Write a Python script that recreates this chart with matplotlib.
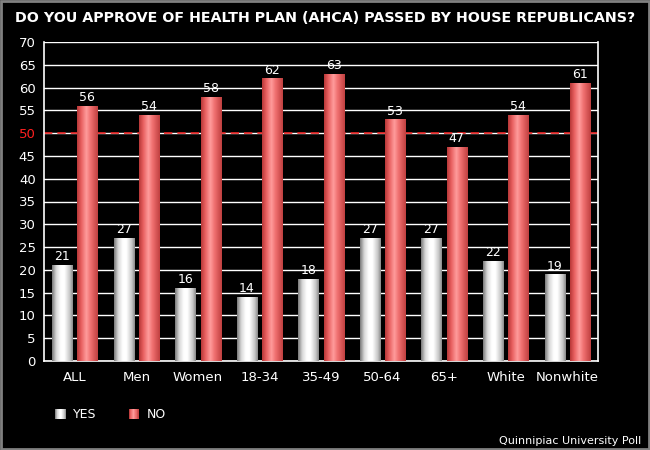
import matplotlib
matplotlib.use("Agg")
import matplotlib.pyplot as plt
import numpy as np
from matplotlib.patches import Rectangle
from matplotlib.legend_handler import HandlerBase
from matplotlib.colors import LinearSegmentedColormap

categories = ["ALL", "Men", "Women", "18-34", "35-49", "50-64", "65+", "White", "Nonwhite"]
yes_vals = [21, 27, 16, 14, 18, 27, 27, 22, 19]
no_vals = [56, 54, 58, 62, 63, 53, 47, 54, 61]
series_names = ["YES", "NO"]
title = "DO YOU APPROVE OF HEALTH PLAN (AHCA) PASSED BY HOUSE REPUBLICANS?"
source = "Quinnipiac University Poll"

yes_cmap = LinearSegmentedColormap.from_list(
    "yes", [(0, "#7a7a7a"), (0.2, "#d8d8d8"), (0.42, "#ffffff"), (0.6, "#ffffff"), (0.85, "#c8c8c8"), (1, "#8a8a8a")])
no_cmap = LinearSegmentedColormap.from_list(
    "no", [(0, "#b83838"), (0.2, "#e86060"), (0.45, "#ff9c9c"), (0.65, "#f07070"), (1, "#c04040")])

fig = plt.figure(figsize=(6.5, 4.5), dpi=100, facecolor="black")
ax = fig.add_axes([44/650, 1-361/450, (598-44)/650, (361-42)/450])
ax.set_facecolor("black")

x = np.arange(len(categories))
w = 0.325
off = 0.205
b1 = ax.bar(x - off, yes_vals, w, color="none", zorder=3)
b2 = ax.bar(x + off, no_vals, w, color="none", zorder=3)

grad = np.linspace(0, 1, 64).reshape(1, -1)
for bars, cmap in ((b1, yes_cmap), (b2, no_cmap)):
    for r in bars:
        x0, y0 = r.get_x(), r.get_y()
        im = ax.imshow(grad, cmap=cmap, aspect="auto", extent=(x0, x0 + r.get_width(), y0, y0 + r.get_height()),
                       zorder=3, interpolation="bilinear")
        im.set_clip_path(r)

for bars, vals in ((b1, yes_vals), (b2, no_vals)):
    for r, v in zip(bars, vals):
        ax.text(r.get_x() + r.get_width()/2, v + 0.4, str(v), ha="center", va="bottom",
                color="white", fontsize=9, zorder=5)

ax.set_xlim(-0.5, len(categories) - 0.5)
ax.set_ylim(0, 70)
ax.set_yticks(range(0, 71, 5))
ax.yaxis.grid(True, color="white", linewidth=1, zorder=1)
ax.set_axisbelow(True)
ax.axhline(50, color="#e82020", linewidth=1.2, linestyle=(0, (5, 3)), zorder=2)
ax.set_xticks(x)
ax.set_xticklabels(categories)
ax.tick_params(axis="both", colors="white", labelsize=9.5, length=0, pad=6)
ax.tick_params(axis="x", pad=7)
for lab in ax.get_yticklabels():
    if lab.get_text() == "50":
        lab.set_color("#ff2020")
for s in ax.spines.values():
    s.set_color("white")
    s.set_linewidth(1.2)
ax.spines["top"].set_visible(False)

fig.text(0.5, 1 - 18/450, title, ha="center", va="center", color="white", fontsize=10.3, fontweight="bold")
fig.text(641/650, 1 - 441/450, source, ha="right", va="center", color="white", fontsize=8)

class GradHandler(HandlerBase):
    def __init__(self, cmap):
        super().__init__()
        self.cmap = cmap
    def create_artists(self, legend, orig_handle, xdescent, ydescent, width, height, fontsize, trans):
        n = 12
        sw = height
        arts = []
        for i in range(n):
            arts.append(Rectangle((-xdescent + i*sw/n, -ydescent), sw/n + 0.05, height,
                                  facecolor=self.cmap((i + 0.5)/n), edgecolor="none", transform=trans))
        return arts

h1 = Rectangle((0, 0), 1, 1)
h2 = Rectangle((0, 1), 1, 1)
leg = fig.legend([h1, h2], series_names, handler_map={h1: GradHandler(yes_cmap), h2: GradHandler(no_cmap)},
                 loc="center left", bbox_to_anchor=(44/650, 1 - 415/450), ncol=2, frameon=False,
                 labelcolor="white", fontsize=9, handlelength=0.9, handleheight=0.9,
                 columnspacing=2.6, handletextpad=0.5)

fig.add_artist(Rectangle((0.0015, 0.002), 0.997, 0.996, transform=fig.transFigure,
                         facecolor="none", edgecolor="#808080", linewidth=2))

fig.savefig("out.png", dpi=100, facecolor="black")
